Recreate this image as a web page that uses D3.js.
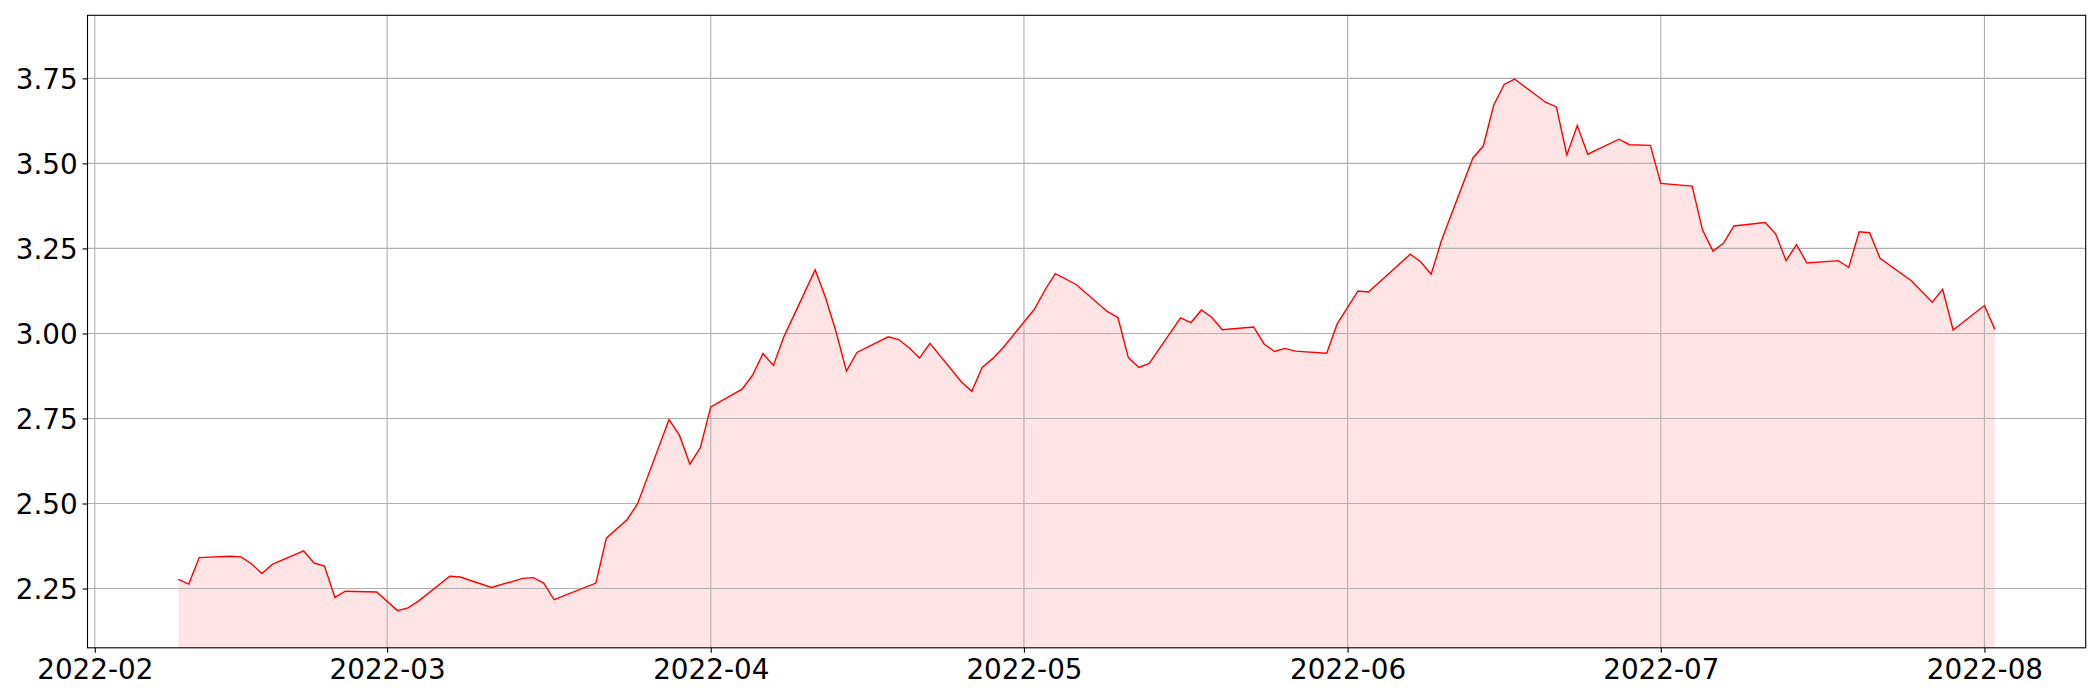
<!DOCTYPE html>
<html><head><meta charset="utf-8">
<script src="https://cdn.jsdelivr.net/npm/d3@7"></script>
<style>html,body{margin:0;padding:0;background:#fff;}svg{display:block;}</style>
</head><body>
<svg id="chart" width="2100" height="700"></svg>
<script>
const dates = ["2022-02-09","2022-02-10","2022-02-11","2022-02-14","2022-02-15","2022-02-16","2022-02-17","2022-02-18",
"2022-02-21","2022-02-22","2022-02-23","2022-02-24","2022-02-25","2022-02-28","2022-03-02","2022-03-03","2022-03-04",
"2022-03-07","2022-03-08","2022-03-11","2022-03-14","2022-03-15","2022-03-16","2022-03-17","2022-03-21","2022-03-22",
"2022-03-24","2022-03-25","2022-03-28","2022-03-29","2022-03-30","2022-03-31","2022-04-01","2022-04-04","2022-04-05",
"2022-04-06","2022-04-07","2022-04-08","2022-04-11","2022-04-12","2022-04-13","2022-04-14","2022-04-15","2022-04-18",
"2022-04-19","2022-04-20","2022-04-21","2022-04-22","2022-04-25","2022-04-26","2022-04-27","2022-04-28","2022-04-29",
"2022-05-02","2022-05-03","2022-05-04","2022-05-06","2022-05-09","2022-05-10","2022-05-11","2022-05-12","2022-05-13",
"2022-05-16","2022-05-17","2022-05-18","2022-05-19","2022-05-20","2022-05-23","2022-05-24","2022-05-25","2022-05-26",
"2022-05-27","2022-05-30","2022-05-31","2022-06-02","2022-06-03","2022-06-07","2022-06-08","2022-06-09","2022-06-10",
"2022-06-13","2022-06-14","2022-06-15","2022-06-16","2022-06-17","2022-06-20","2022-06-21","2022-06-22","2022-06-23",
"2022-06-24","2022-06-27","2022-06-28","2022-06-30","2022-07-01","2022-07-04","2022-07-05","2022-07-06","2022-07-07",
"2022-07-08","2022-07-11","2022-07-12","2022-07-13","2022-07-14","2022-07-15","2022-07-18","2022-07-19","2022-07-20",
"2022-07-21","2022-07-22","2022-07-25","2022-07-27","2022-07-28","2022-07-29","2022-08-01","2022-08-02"];
const values = [2.277,2.263,2.341,2.345,2.343,2.323,2.294,2.321,
2.361,2.325,2.316,2.224,2.242,2.240,2.185,2.193,2.213,
2.286,2.284,2.253,2.280,2.282,2.266,2.217,2.266,2.398,
2.453,2.500,2.747,2.701,2.616,2.664,2.784,2.836,2.877,
2.941,2.906,2.990,3.187,3.105,3.005,2.889,2.944,2.990,
2.982,2.958,2.928,2.971,2.858,2.830,2.900,2.926,2.958,
3.071,3.127,3.176,3.144,3.064,3.047,2.929,2.900,2.912,
3.046,3.032,3.069,3.047,3.011,3.019,2.969,2.947,2.956,
2.948,2.942,3.028,3.125,3.122,3.233,3.211,3.174,3.274,
3.516,3.551,3.672,3.732,3.748,3.679,3.666,3.525,3.611,
3.527,3.571,3.555,3.553,3.441,3.433,3.304,3.242,3.265,
3.316,3.326,3.293,3.214,3.261,3.207,3.214,3.194,3.299,
3.296,3.221,3.155,3.092,3.130,3.010,3.082,3.012];
const yTicks = [2.25,2.50,2.75,3.00,3.25,3.50,3.75];

const parse = d3.utcParse("%Y-%m-%d");
const data = dates.map((d,i)=>({date:parse(d), value:values[i]}));

const L = 87.5, R = 2085.7, T = 15.3, B = 647.8;
const svg = d3.select("#chart");

const x0 = data[0].date, x1 = data[data.length-1].date;
const span = x1 - x0;
const x = d3.scaleUtc().domain([new Date(+x0 - span*0.05), new Date(+x1 + span*0.05)]).range([L,R]);
const vmin = d3.min(values), vmax = d3.max(values);
const y = d3.scaleLinear().domain([vmin*0.95, vmax*1.05]).range([B,T]);

const font = "'DejaVu Sans', sans-serif";
const months = d3.utcMonth.range(d3.utcMonth.ceil(x.domain()[0]), x.domain()[1]);

// fill area (below grid, like matplotlib)
const area = d3.area().x(d=>x(d.date)).y0(B).y1(d=>y(d.value));
svg.append("path").datum(data).attr("d",area).attr("fill","rgb(255,228,230)");

// grid
const grid = svg.append("g");
grid.selectAll("line.vx").data(months).enter().append("line")
  .attr("x1",d=>x(d)).attr("x2",d=>x(d)).attr("y1",T).attr("y2",B)
  .attr("stroke","#b0b0b0").attr("stroke-width",1.1);
grid.selectAll("line.hy").data(yTicks).enter().append("line")
  .attr("x1",L).attr("x2",R).attr("y1",d=>y(d)).attr("y2",d=>y(d))
  .attr("stroke","#b0b0b0").attr("stroke-width",1.1);

// line
const line = d3.line().x(d=>x(d.date)).y(d=>y(d.value));
svg.append("path").datum(data).attr("d",line).attr("fill","none")
  .attr("stroke","#ff0000").attr("stroke-width",1.4).attr("stroke-linejoin","miter");

// axes
const xAxis = d3.axisBottom(x).tickValues(months).tickFormat(d3.utcFormat("%Y-%m")).tickSizeOuter(0).tickSize(4.9).tickPadding(4.9);
const gx = svg.append("g").attr("transform",`translate(0,${B})`).call(xAxis);
gx.select(".domain").remove();
gx.selectAll("line").attr("stroke","#000").attr("stroke-width",1.1);
gx.selectAll("text").attr("font-family",font).attr("font-size","27.8px").attr("fill","#000").attr("dy","0.76em");

const yAxis = d3.axisLeft(y).tickValues(yTicks).tickFormat(d3.format(".2f")).tickSizeOuter(0).tickSize(4.9).tickPadding(4.9);
const gy = svg.append("g").attr("transform",`translate(${L},0)`).call(yAxis);
gy.select(".domain").remove();
gy.selectAll("line").attr("stroke","#000").attr("stroke-width",1.1);
gy.selectAll("text").attr("font-family",font).attr("font-size","27.8px").attr("fill","#000").attr("dy","0.36em");

// frame
svg.append("rect").attr("x",L).attr("y",T).attr("width",R-L).attr("height",B-T)
  .attr("fill","none").attr("stroke","#000").attr("stroke-width",1.1);
</script>
</body></html>
